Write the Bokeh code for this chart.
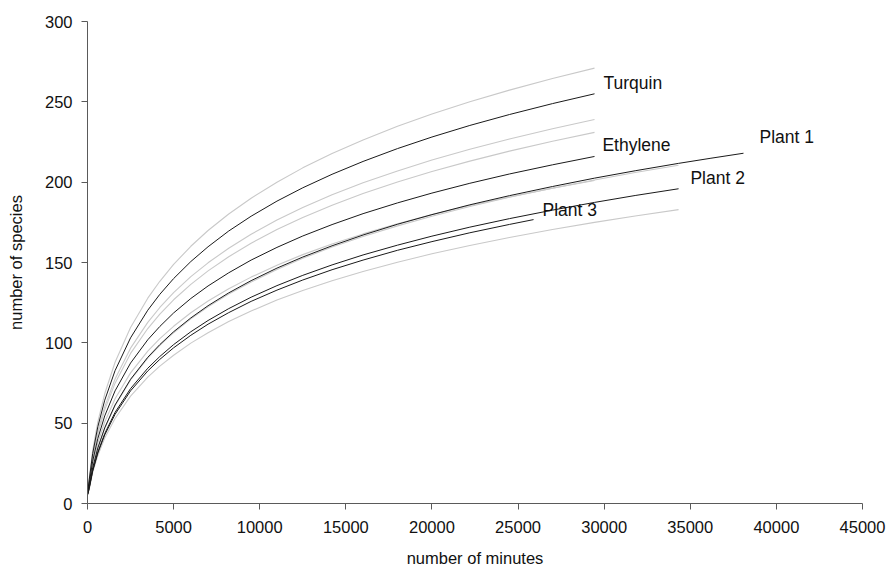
from bokeh.plotting import figure
from bokeh.models import Range1d, FixedTicker
from bokeh.core.properties import value
from bokeh.embed import file_html
from bokeh.resources import INLINE

# sampling points (number of minutes)
t_short = [10, 100, 300, 600, 1000, 1600, 2500, 3500, 4200, 5000, 6000, 7000, 8200, 9500, 11000,
           12500, 14200, 16000, 18000, 20000, 22200, 24500, 27000, 29440]
t_p1 = [10, 100, 300, 600, 1000, 1600, 2500, 3500, 4200, 5000, 6000, 7000, 8200, 9500, 11000,
        12500, 14200, 16000, 18000, 20000, 22200, 24500, 27000, 29440, 31800, 34320, 36200, 38090]
t_p2 = [10, 100, 300, 600, 1000, 1600, 2500, 3500, 4200, 5000, 6000, 7000, 8200, 9500, 11000,
        12500, 14200, 16000, 18000, 20000, 22200, 24500, 27000, 29440, 31800, 34320]
t_p3 = [10, 100, 300, 600, 1000, 1600, 2500, 3500, 4200, 5000, 6000, 7000, 8200, 9500, 11000,
        12500, 14200, 16000, 18000, 20000, 22200, 24500, 25900]

# mean rarefaction curves (number of species)
turquin = [7.2, 14.8, 31.0, 47.8, 64.3, 82.7, 103.1, 120.3, 130.2, 140.0, 150.6, 159.8, 169.6, 178.8, 188.2,
           196.5, 204.9, 212.9, 220.9, 228.1, 235.3, 242.1, 248.9, 255.0]
ethylene = [6.1, 12.5, 26.3, 40.5, 54.5, 70.1, 87.4, 101.9, 110.2, 118.6, 127.6, 135.4, 143.6, 151.5, 159.4,
            166.5, 173.6, 180.4, 187.1, 193.2, 199.3, 205.1, 210.8, 216.0]
plant1 = [6.2, 10.4, 22.2, 34.6, 47.1, 61.3, 77.3, 91.0, 98.9, 106.9, 115.5, 123.1, 131.1, 138.7, 146.5,
          153.4, 160.4, 167.1, 173.8, 179.8, 185.9, 191.6, 197.3, 202.5, 207.1, 211.7, 214.9, 218.0]
plant2 = [5.7, 9.6, 20.5, 32.0, 43.5, 56.7, 71.5, 84.2, 91.5, 98.9, 106.9, 113.9, 121.3, 128.4, 135.6,
          142.0, 148.5, 154.7, 160.8, 166.4, 172.0, 177.3, 182.6, 187.4, 191.7, 195.9]
plant3 = [5.6, 9.4, 20.1, 31.4, 42.7, 55.5, 70.1, 82.5, 89.7, 96.9, 104.7, 111.6, 118.8, 125.8, 132.8,
          139.1, 145.5, 151.5, 157.6, 163.0, 168.5, 173.7, 176.7]

# confidence bounds (grey)
turquin_up = [7.6, 15.7, 33.0, 50.8, 68.3, 87.9, 109.6, 127.8, 138.3, 148.8, 160.1, 169.9, 180.2, 190.0, 200.0,
              208.9, 217.8, 226.3, 234.8, 242.4, 250.1, 257.3, 264.5, 271.0]
turquin_lo = [6.7, 13.9, 29.1, 44.8, 60.3, 77.5, 96.7, 112.7, 122.0, 131.2, 141.2, 149.8, 158.9, 167.6, 176.4,
              184.2, 192.1, 199.6, 207.0, 213.8, 220.5, 226.9, 233.3, 239.0]
ethylene_up = [6.5, 13.4, 28.1, 43.3, 58.3, 74.9, 93.4, 108.9, 117.9, 126.8, 136.4, 144.8, 153.6, 162.0, 170.5,
               178.0, 185.7, 192.9, 200.1, 206.6, 213.1, 219.3, 225.5, 231.0]
ethylene_lo = [5.7, 11.7, 24.5, 37.7, 50.7, 65.2, 81.3, 94.8, 102.6, 110.3, 118.7, 126.0, 133.7, 140.9, 148.3,
               154.9, 161.5, 167.8, 174.1, 179.8, 185.5, 190.8, 196.2, 201.0]
plant2_up = [6.2, 10.4, 22.0, 34.4, 46.8, 60.9, 76.9, 90.5, 98.4, 106.3, 114.9, 122.4, 130.4, 137.9, 145.7,
             152.6, 159.6, 166.2, 172.8, 178.8, 184.8, 190.6, 196.3, 201.4, 206.0, 210.5]
plant2_lo = [5.3, 9.0, 19.2, 29.9, 40.7, 52.9, 66.8, 78.6, 85.5, 92.3, 99.8, 106.3, 113.3, 119.8, 126.6,
             132.6, 138.6, 144.4, 150.2, 155.4, 160.6, 165.6, 170.5, 175.0, 178.9, 182.9]

labels = ["Turquin", "Ethylene", "Plant 1", "Plant 2", "Plant 3"]
label_x = [29960, 29900, 39020, 35010, 26420]
label_y = [261.6, 223.1, 228.1, 202.7, 182.9]

x_ticks = [0, 5000, 10000, 15000, 20000, 25000, 30000, 35000, 40000, 45000]
y_ticks = [0, 50, 100, 150, 200, 250, 300]

FONT = "Liberation Sans"

p = figure(width=887, height=569, output_backend="svg", toolbar_location=None,
           x_range=Range1d(0, 45000), y_range=Range1d(0, 300),
           min_border_left=87, min_border_right=25, min_border_top=21, min_border_bottom=64)
p.outline_line_color = None
p.grid.visible = False
p.background_fill_color = "white"

grey = "#c9c9c9"
for ys, xs in [(turquin_up, t_short), (turquin_lo, t_short), (ethylene_up, t_short),
               (ethylene_lo, t_short), (plant2_up, t_p2), (plant2_lo, t_p2)]:
    p.line(xs, ys, line_color=grey, line_width=1.1)

black = "#1a1a1a"
for ys, xs in [(turquin, t_short), (ethylene, t_short), (plant1, t_p1), (plant2, t_p2), (plant3, t_p3)]:
    p.line(xs, ys, line_color=black, line_width=1.0)

p.text(x=label_x, y=label_y, text=labels, text_font=value(FONT), text_font_size="17.5px",
       text_align="left", text_baseline="middle", text_color="#111111")

for ax in (p.xaxis[0], p.yaxis[0]):
    ax.axis_line_color = "#5a5a5a"
    ax.major_tick_line_color = "#5a5a5a"
    ax.minor_tick_line_color = None
    ax.major_tick_in = 0
    ax.major_tick_out = 6
    ax.major_label_text_font = FONT
    ax.major_label_text_font_size = "16.5px"
    ax.major_label_text_color = "#111111"
    ax.axis_label_text_font = FONT
    ax.axis_label_text_font_size = "16.5px"
    ax.axis_label_text_font_style = "normal"
    ax.axis_label_text_color = "#111111"

p.xaxis.ticker = FixedTicker(ticks=x_ticks)
p.yaxis.ticker = FixedTicker(ticks=y_ticks)
p.xaxis.axis_label = "number of minutes"
p.yaxis.axis_label = "number of species"
p.xaxis.major_label_standoff = 11
p.yaxis.major_label_standoff = 9
p.xaxis.axis_label_standoff = 13
p.yaxis.axis_label_standoff = 17

open("out.html", "w").write(file_html(p, INLINE))
